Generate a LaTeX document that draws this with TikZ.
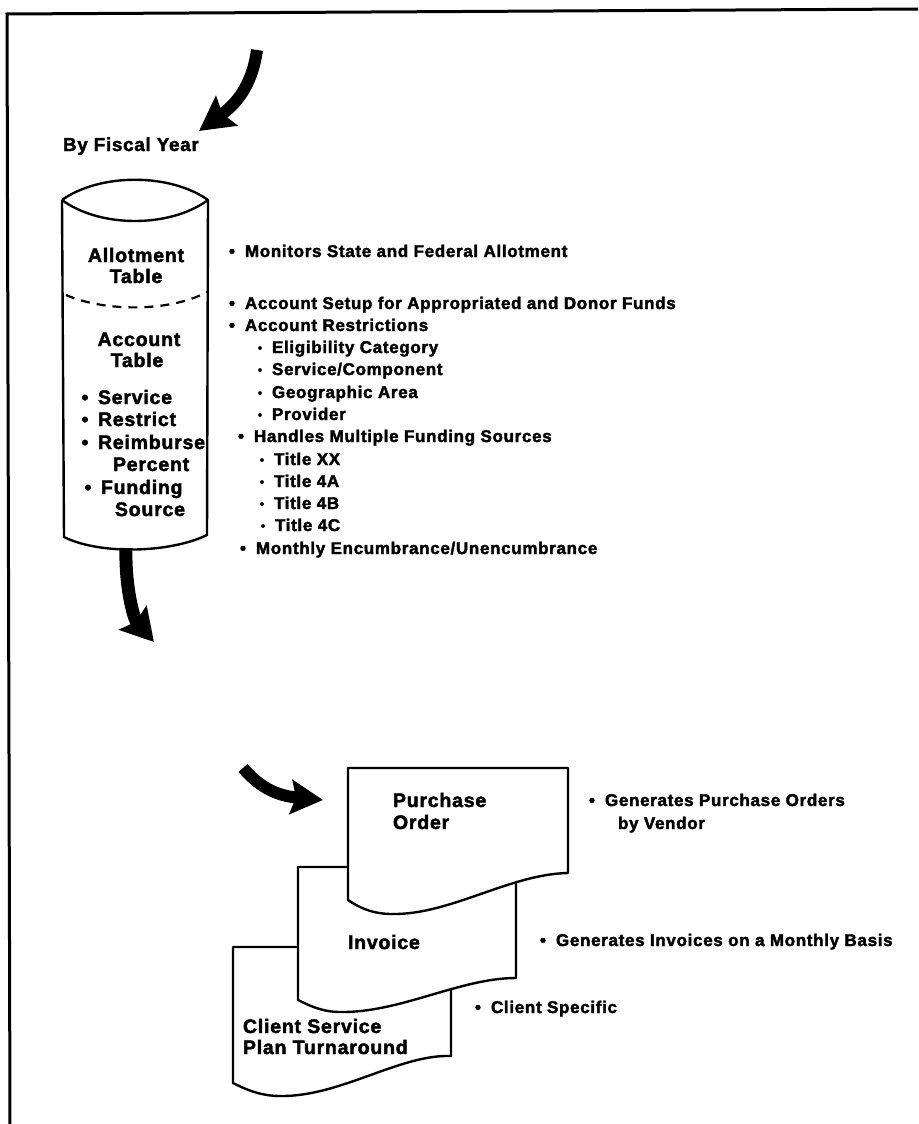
\documentclass[tikz,border=0pt]{standalone}
\usepackage{fontspec}
\newfontfamily\hv[LetterSpace=4, BoldFeatures={FakeBold=2.2}]{Liberation Sans}
\usetikzlibrary{arrows.meta}
\newcommand\bul{\makebox[26pt][c]{\textbullet}}
\newcommand\sbul{\makebox[24pt][c]{\raisebox{1pt}{\fontsize{12}{12}\selectfont\textbullet}}}
\begin{document}
\begin{tikzpicture}[x=1pt,y=-1pt,
  lbl/.style={anchor=base west, inner sep=0pt, outer sep=0pt, font=\hv\bfseries\fontsize{17}{20}\selectfont},
  big/.style={anchor=base west, inner sep=0pt, outer sep=0pt, font=\hv\bfseries\fontsize{19.5}{22}\selectfont},
  bigc/.style={anchor=base, inner sep=0pt, outer sep=0pt, font=\hv\bfseries\fontsize{19.5}{22}\selectfont},
  outline/.style={draw=black, line width=2.4pt, line join=round},
  docshape/.style={draw=black, fill=white, line width=2.4pt, line join=round},
  fat/.style={line width=#1, draw=black}
]
\useasboundingbox (0,0) rectangle (918,1124);
% frame
\coordinate (fb) at (10,1124);
\coordinate (ftl) at (7,14);
\coordinate (ftr) at (918,9);
\draw[line width=3pt] (fb) -- (ftl) -- (ftr);

% top arrow
\coordinate (ta) at (257,50);
\coordinate (tb) at (199,131);
\draw[fat=12pt, -{Stealth[length=34pt,width=36pt,inset=5pt]}] (ta) .. controls (252,86) and (236,104) .. (tb);

\node[lbl, font=\hv\bfseries\fontsize{18.8}{22}\selectfont] (fy) at (63,151) {By Fiscal Year};

% cylinder
\coordinate (cl) at (62,200);
\coordinate (cr) at (208,200);
\draw[outline, fill=white] (cl) .. controls (100,173) and (170,173) .. (cr) .. controls (170,228) and (100,228) .. (cl);
\draw[outline] (cl) -- (64,537) .. controls (100,555) and (170,553) .. (207,535) -- (cr);
\draw[outline, line width=2.2pt, dash pattern=on 9pt off 7pt] (66,295) .. controls (105,312) and (170,312) .. (207,292);

\node[bigc] (at1) at (136,262) {Allotment};
\node[bigc] (at2) at (136,283) {Table};
\node[bigc] (ac1) at (139,346) {Account};
\node[bigc] (ac2) at (137,367) {Table};
\node[big] (cs) at (72,404) {\bul Service};
\node[big] (cr2) at (72,426) {\bul Restrict};
\node[big] (crm) at (72,449) {\bul Reimburse};
\node[big] (cp) at (113,471) {Percent};
\node[big] (cf) at (75,494) {\bul Funding};
\node[big] (cso) at (115,516) {Source};

% right list
\node[lbl] (r1) at (219,257) {\bul Monitors State and Federal Allotment};
\node[lbl] (r2) at (219,309) {\bul Account Setup for Appropriated and Donor Funds};
\node[lbl] (r3) at (219,331) {\bul Account Restrictions};
\node[lbl] (r4) at (248,353) {\sbul Eligibility Category};
\node[lbl] (r5) at (248,375) {\sbul Service/Component};
\node[lbl] (r6) at (248,398) {\sbul Geographic Area};
\node[lbl] (r7) at (248,420) {\sbul Provider};
\node[lbl] (r8) at (228,442) {\bul Handles Multiple Funding Sources};
\node[lbl] (r9) at (250,465) {\sbul Title XX};
\node[lbl] (r10) at (250,487) {\sbul Title 4A};
\node[lbl] (r11) at (250,509) {\sbul Title 4B};
\node[lbl] (r12) at (251,531) {\sbul Title 4C};
\node[lbl] (r13) at (230,554) {\bul Monthly Encumbrance/Unencumbrance};

% arrow from cylinder
\coordinate (ca) at (126,548);
\coordinate (cb) at (154,642);
\draw[fat=13pt, -{Stealth[length=32pt,width=36pt,inset=5pt]}] (ca) .. controls (125,585) and (133,618) .. (cb);

% arrow to purchase order
\coordinate (pa) at (243,768);
\coordinate (pb) at (323,800);
\draw[fat=12pt, -{Stealth[length=32pt,width=34pt,inset=5pt]}] (pa) .. controls (262,790) and (280,796) .. (pb);

% documents (back to front)
\draw[docshape] (233,947) -- (451,947) -- (451,1056) .. controls (400,1054) and (340,1097) .. (280,1096) .. controls (260,1096) and (245,1089) .. (233,1083) -- cycle;
\draw[docshape] (298,867) -- (516,867) -- (516,978) .. controls (460,978) and (400,1013) .. (340,1012) .. controls (322,1012) and (308,1005) .. (298,1000) -- cycle;
\draw[docshape] (348,768) -- (568,768) -- (568,873) .. controls (510,874) and (450,915) .. (392,914) .. controls (372,914) and (358,907) .. (348,900) -- cycle;

\node[big] (po1) at (393,807) {Purchase};
\node[big] (po2) at (393,829) {Order};
\node[big] (inv) at (348,949) {Invoice};
\node[big] (cl1) at (243,1033) {Client Service};
\node[big] (cl2) at (243,1054) {Plan Turnaround};

\node[lbl] (g1) at (579,806) {\bul Generates Purchase Orders};
\node[lbl] (g2) at (618,829) {by Vendor};
\node[lbl] (g3) at (530,946) {\bul Generates Invoices on a Monthly Basis};
\node[lbl] (g4) at (465,1013) {\bul Client Specific};
\end{tikzpicture}
\end{document}
